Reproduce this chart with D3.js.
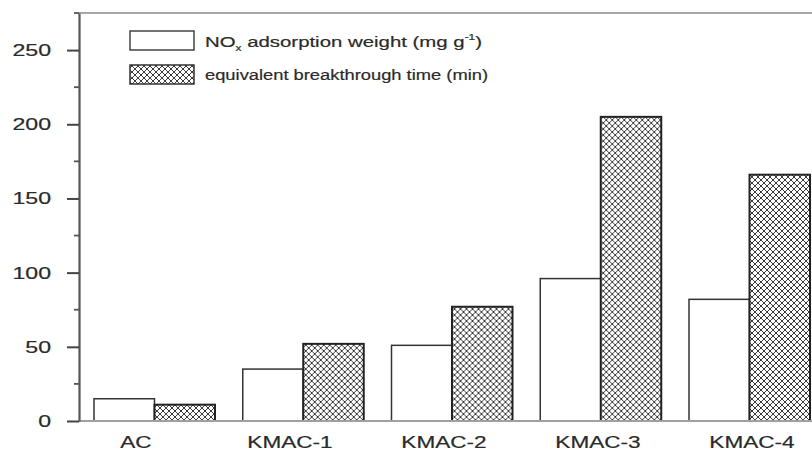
<!DOCTYPE html>
<html>
<head>
<meta charset="utf-8">
<script src="https://cdn.jsdelivr.net/npm/d3@7"></script>
<style>
  html, body { margin: 0; padding: 0; background: #fff; }
  svg { display: block; }
  text { font-family: "Liberation Sans", Arial, Helvetica, sans-serif; fill: #2a2a2a; stroke: #2a2a2a; stroke-width: 0.2; }
</style>
</head>
<body>
<svg id="chart" width="812" height="452"></svg>
<script>
// Samples and the two measured quantities
const categories = ["AC", "KMAC-1", "KMAC-2", "KMAC-3", "KMAC-4"];
const adsorptionWeight = [15, 35, 51, 96, 82];          // mg g-1
const breakthroughTime = [11, 52, 77, 205, 166];       // min
const seriesKeys = ["adsorption", "breakthrough"];
const majorTicks = [0, 50, 100, 150, 200, 250];
const minorTicks = [25, 75, 125, 175, 225, 275];
const yMax = 275;

const svg = d3.select("#chart");
const W = 812, H = 452;
const plot = { left: 79, top: 13, bottom: 421, right: 825 };

const y = d3.scaleLinear().domain([0, yMax]).range([plot.bottom, plot.top]);
const x = d3.scaleBand().domain(categories)
  .range([plot.left, plot.right]).paddingInner(0.1866).paddingOuter(0.1008);
const xSub = d3.scaleBand().domain(seriesKeys).range([0, x.bandwidth()]);
const xLabel = d3.scalePoint().domain(categories).range([136, 752]);

// Cross-hatch fill for the breakthrough-time bars
const defs = svg.append("defs");
const pat = defs.append("pattern").attr("id", "xhatch")
  .attr("patternUnits", "userSpaceOnUse").attr("width", 6).attr("height", 6);
pat.append("rect").attr("width", 6).attr("height", 6).attr("fill", "#fff");
pat.append("path")
  .attr("d", "M0,0L6,6M6,0L0,6M-1,5L1,7M5,-1L7,1M-1,1L1,-1M5,7L7,5")
  .attr("stroke", "#3a3a3a").attr("stroke-width", 1).attr("fill", "none");

// Stretch a text element horizontally by a factor
function stretch(sel, k) {
  sel.each(function () {
    const len = this.getComputedTextLength();
    d3.select(this).attr("textLength", len * k).attr("lengthAdjust", "spacingAndGlyphs");
  });
}

// Top frame line
svg.append("line")
  .attr("x1", plot.left).attr("x2", W).attr("y1", y(yMax)).attr("y2", y(yMax))
  .attr("stroke", "#8a8a8a").attr("stroke-width", 1.6);

// Bars
const groups = svg.append("g").selectAll("g").data(categories).join("g")
  .attr("transform", d => `translate(${x(d)},0)`);

groups.append("rect")
  .attr("x", xSub("adsorption"))
  .attr("y", (d, i) => y(adsorptionWeight[i]))
  .attr("width", xSub.bandwidth())
  .attr("height", (d, i) => y(0) - y(adsorptionWeight[i]))
  .attr("fill", "#fff").attr("stroke", "#333").attr("stroke-width", 1.5);

groups.append("rect")
  .attr("x", xSub("breakthrough"))
  .attr("y", (d, i) => y(breakthroughTime[i]))
  .attr("width", xSub.bandwidth())
  .attr("height", (d, i) => y(0) - y(breakthroughTime[i]))
  .attr("fill", "url(#xhatch)").attr("stroke", "#222").attr("stroke-width", 2);

// Baseline
svg.append("line")
  .attr("x1", plot.left).attr("x2", W).attr("y1", y(0)).attr("y2", y(0))
  .attr("stroke", "#a0a0a0").attr("stroke-width", 2);

// Y axis with major and minor ticks
const yAxis = svg.append("g").attr("transform", `translate(${plot.left},0)`)
  .call(d3.axisLeft(y).tickValues(majorTicks).tickSize(12).tickPadding(16).tickSizeOuter(0));
yAxis.select(".domain").attr("stroke", "#555").attr("stroke-width", 2.2);
yAxis.selectAll(".tick line").attr("stroke", "#444").attr("stroke-width", 2);
yAxis.selectAll(".tick text")
  .attr("font-size", 17).attr("font-family", null).attr("fill", "#2a2a2a")
  .call(stretch, 1.36);

svg.append("g").selectAll("line").data(minorTicks).join("line")
  .attr("x1", plot.left - 5).attr("x2", plot.left)
  .attr("y1", d => y(d)).attr("y2", d => y(d))
  .attr("stroke", "#555").attr("stroke-width", 1.8);

// Category labels
svg.append("g").selectAll("text").data(categories).join("text")
  .attr("x", d => xLabel(d)).attr("y", 448)
  .attr("text-anchor", "middle").attr("font-size", 16)
  .text(d => d)
  .call(stretch, 1.41);

// Legend
const legend = svg.append("g");
legend.append("rect").attr("x", 130).attr("y", 31).attr("width", 64).attr("height", 19)
  .attr("fill", "#fff").attr("stroke", "#444").attr("stroke-width", 1.5);
legend.append("rect").attr("x", 130).attr("y", 65).attr("width", 64).attr("height", 19)
  .attr("fill", "url(#xhatch)").attr("stroke", "#333").attr("stroke-width", 1.5);

const t1 = legend.append("text").attr("x", 205).attr("y", 47).attr("font-size", 15.5);
t1.append("tspan").text("NO");
t1.append("tspan").attr("font-size", 9).attr("dy", 4).text("x");
t1.append("tspan").attr("dy", -4).text(" adsorption weight (mg g");
t1.append("tspan").attr("font-size", 9).attr("dy", -7).text("-1");
t1.append("tspan").attr("dy", 7).text(")");
t1.attr("textLength", 277).attr("lengthAdjust", "spacingAndGlyphs");

legend.append("text").attr("x", 205).attr("y", 80).attr("font-size", 15.5)
  .text("equivalent breakthrough time (min)")
  .attr("textLength", 283).attr("lengthAdjust", "spacingAndGlyphs");
</script>
</body>
</html>
